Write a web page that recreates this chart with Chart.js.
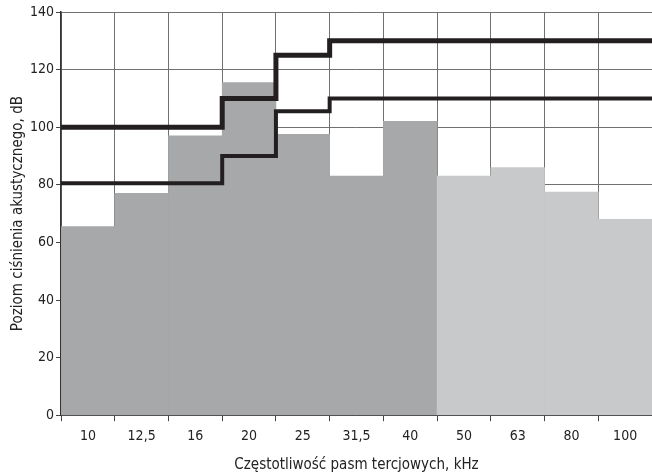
<!DOCTYPE html>
<html>
<head>
<meta charset="utf-8">
<script src="https://cdn.jsdelivr.net/npm/chart.js@4/dist/chart.umd.min.js"></script>
<style>
  html, body { margin: 0; padding: 0; background: #fff; }
  #wrap { width: 652px; height: 474px; }
</style>
</head>
<body>
<div id="wrap"><canvas id="noiseChart" width="652" height="474"></canvas></div>
<script>
// Data
const bands = ['10', '12,5', '16', '20', '25', '31,5', '40', '50', '63', '80', '100'];
const levels = [65.5, 77, 97, 115.5, 97.5, 83, 102, 83, 86, 77.5, 68];
const upperLimit = [100, 100, 100, 110, 125, 130, 130, 130, 130, 130, 130];
const lowerLimit = [80.5, 80.5, 80.5, 90, 105.5, 110, 110, 110, 110, 110, 110];
const yTicks = [0, 20, 40, 60, 80, 100, 120, 140];
const audibleCount = 7; // first bands drawn darker

const fontFam = "'Liberation Sans Narrow', 'DejaVu Sans Condensed', Arial, sans-serif";

// step line points on band edges
function stepPoints(vals) {
    const pts = vals.map((v, i) => ({ x: i, y: v }));
    pts.push({ x: vals.length, y: vals[vals.length - 1] });
    return pts;
}

const barColors = levels.map((v, i) => i < audibleCount ? '#a7a8aa' : '#c8c9cb');

const ctx = document.getElementById('noiseChart').getContext('2d');
const noiseChart = new Chart(ctx, {
    type: 'bar',
    data: {
        labels: bands,
        datasets: [{
            label: 'Poziom',
            data: levels,
            backgroundColor: barColors,
            borderWidth: 0,
            categoryPercentage: 1.0,
            barPercentage: 1.0,
            grouped: false,
            order: 2,
            xAxisID: 'x'
        }, {
            type: 'line',
            label: 'Górna granica',
            data: stepPoints(upperLimit),
            borderColor: '#231f20',
            borderWidth: 5,
            stepped: true,
            pointRadius: 0,
            fill: false,
            order: 0,
            xAxisID: 'xl'
        }, {
            type: 'line',
            label: 'Dolna granica',
            data: stepPoints(lowerLimit),
            borderColor: '#231f20',
            borderWidth: 4,
            stepped: true,
            pointRadius: 0,
            fill: false,
            order: 1,
            xAxisID: 'xl'
        }]
    },
    options: {
        responsive: false,
        animation: false,
        layout: {
            padding: { top: 12, right: 0, left: 9, bottom: 0 }
        },
        plugins: {
            legend: { display: false },
            tooltip: { enabled: false }
        },
        scales: {
            x: {
                type: 'category',
                offset: true,
                grid: {
                    offset: true,
                    color: '#707070',
                    lineWidth: 1,
                    tickLength: 6,
                    tickColor: '#444'
                },
                border: { color: '#333', width: 1.5 },
                ticks: {
                    color: '#222',
                    font: { family: fontFam, size: 14 },
                    padding: 7,
                    maxRotation: 0
                },
                title: {
                    display: true,
                    text: 'Częstotliwość pasm tercjowych, kHz',
                    color: '#222',
                    font: { family: fontFam, size: 15 },
                    padding: { top: 4, bottom: 0 }
                }
            },
            xl: {
                type: 'linear',
                display: false,
                offset: false,
                min: 0,
                max: bands.length
            },
            y: {
                min: 0,
                max: 140,
                afterBuildTicks: (axis) => {
                    axis.ticks = yTicks.map(v => ({ value: v }));
                },
                grid: {
                    color: '#707070',
                    lineWidth: 1,
                    tickLength: 5,
                    tickColor: '#444'
                },
                border: { color: '#333', width: 1.5 },
                ticks: {
                    color: '#222',
                    font: { family: fontFam, size: 14 },
                    padding: 2
                },
                title: {
                    display: true,
                    text: 'Poziom ciśnienia akustycznego, dB',
                    color: '#222',
                    font: { family: fontFam, size: 15 },
                    padding: { top: 0, bottom: 1 }
                }
            }
        }
    }
});
</script>
</body>
</html>
